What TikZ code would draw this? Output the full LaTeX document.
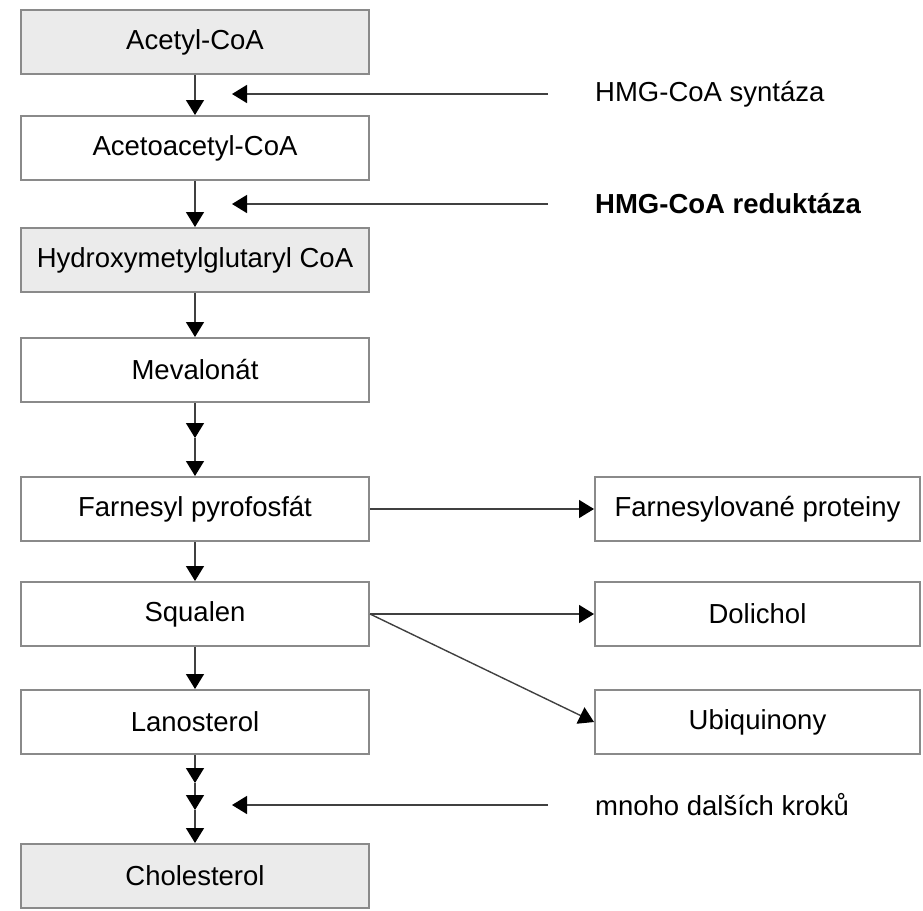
\documentclass[tikz,border=0pt]{standalone}
\usepackage{fontspec}
\setmainfont{Liberation Sans}
\definecolor{boxgray}{HTML}{EBEBEB}
\definecolor{edgegray}{HTML}{8A8A8A}
\definecolor{linegray}{HTML}{404040}
\usetikzlibrary{positioning}
\usetikzlibrary{arrows.meta}
\tikzstyle{stepbox} = [draw=edgegray, line width=2pt, fill=white, rectangle, minimum width=348pt, minimum height=64pt, inner sep=0pt, font=\fontsize{27.5}{33}\selectfont]
\tikzstyle{keystep} = [stepbox, fill=boxgray]
\tikzstyle{sidebox} = [stepbox, minimum width=325pt]
\tikzstyle{flow} = [draw=linegray, line width=1.4pt, -{Triangle[length=15pt,width=18pt,color=black]}]
\tikzstyle{enzyme} = [anchor=west, inner sep=3pt, font=\fontsize{27.5}{33}\selectfont]

\begin{document}
\begin{tikzpicture}[x=1pt, y=-1pt]
\useasboundingbox (0,0) rectangle (923,910);

\node[keystep] (acetyl) at (195,42) {Acetyl-CoA};
\node[stepbox, below=40pt of acetyl] (acetoacetyl) {Acetoacetyl-CoA};
\node[keystep, below=46pt of acetoacetyl] (hmg) {Hydroxymetylglutaryl CoA};
\node[stepbox, below=44pt of hmg] (mevalonat) {Mevalonát};
\node[stepbox, below=73pt of mevalonat] (farnesyl) {Farnesyl pyrofosfát};
\node[stepbox, below=39pt of farnesyl] (squalen) {Squalen};
\node[stepbox, below=42pt of squalen] (lanosterol) {Lanosterol};
\node[keystep, below=88pt of lanosterol] (cholesterol) {Cholesterol};

% side products
\node[sidebox, right=224pt of farnesyl] (proteiny) {Farnesylované proteiny};
\node[sidebox, right=224pt of squalen] (dolichol) {Dolichol};
\node[sidebox, right=224pt of lanosterol] (ubichinon) {Ubiquinony};

% enzymes
\node[enzyme] (syntaza) at (592,94) {HMG-CoA syntáza};
\node[enzyme, font=\fontsize{27.5}{33}\selectfont\bfseries] (reduktaza) at (592,204) {HMG-CoA reduktáza};
\node[enzyme] (kroky) at (592,805) {mnoho dalších kroků};

\coordinate (s1) at (232,94);
\coordinate (s2) at (232,204);
\coordinate (s3) at (232,805);
\coordinate (m1) at (195,438);
\coordinate (l1) at (195,783);
\coordinate (l2) at (195,810);

\draw[flow] (acetyl) -- (acetoacetyl);
\draw[flow] (acetoacetyl) -- (hmg);
\draw[flow] (hmg) -- (mevalonat);
\draw[flow] (mevalonat) -- (m1);
\draw[flow] (m1) -- (farnesyl);
\draw[flow] (farnesyl) -- (squalen);
\draw[flow] (squalen) -- (lanosterol);
\draw[flow] (lanosterol) -- (l1);
\draw[flow] (l1) -- (l2);
\draw[flow] (l2) -- (cholesterol);

\draw[flow] (farnesyl) -- (proteiny);
\draw[flow] (squalen) -- (dolichol);
\draw[flow] (squalen.east) -- (ubichinon.west);

\draw[flow, shorten <=44pt] (syntaza.west) -- (s1);
\draw[flow, shorten <=44pt] (reduktaza.west) -- (s2);
\draw[flow, shorten <=44pt] (kroky.west) -- (s3);

\end{tikzpicture}
\end{document}
